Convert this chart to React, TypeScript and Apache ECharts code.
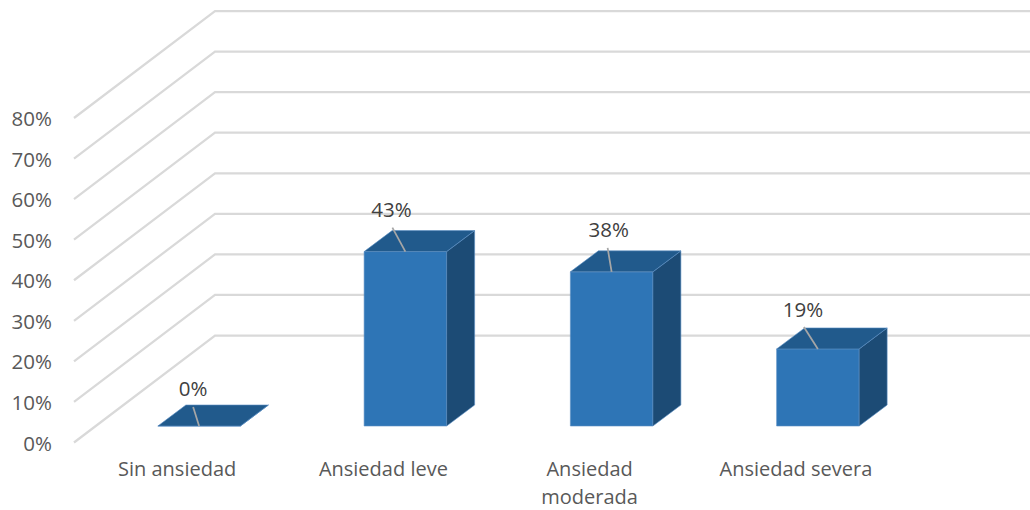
import React, { useEffect, useRef } from "react";
import * as echarts from "echarts";

const categories = ["Sin ansiedad", "Ansiedad leve", "Ansiedad\nmoderada", "Ansiedad severa"];
const values = [0, 43, 38, 19];
const gridTicks = [0, 10, 20, 30, 40, 50, 60, 70, 80];

// Horizontal lean of each callout leader, and its length, per bar.
const leaderLean = [-6, -13, -4, -14];
const leaderRise = [19, 24, 24, 22];
const labelRise = [37, 42, 42, 39];
const labelShift = [-6, -14, -3, -15];

const FONT = "'Open Sans', sans-serif";
// Oblique wall depth and the depth of the bars inside it.
const WALL_DX = 141;
const WALL_DY = 107;
const BAR_INSET_X = 22;
const BAR_INSET_Y = 16.5;
const BAR_DX = 28;
const BAR_DY = 21;
const BAR_WIDTH = 82.5;

const renderWall = (params: any, api: any) => {
  const cs = params.coordSys;
  const y = api.coord([0, api.value(1)])[1];
  return {
    type: "polyline",
    shape: {
      points: [
        [cs.x, y],
        [cs.x + WALL_DX, y - WALL_DY],
        [cs.x + cs.width + WALL_DX, y - WALL_DY],
      ],
    },
    style: { stroke: "#d9d9d9", lineWidth: 2.25, fill: "none" },
    silent: true,
  };
};

const renderBar = (params: any, api: any) => {
  const i = api.value(0);
  const base = api.coord([i, 0]);
  const top = api.coord([i, api.value(1)]);
  const x0 = base[0] + BAR_INSET_X - BAR_WIDTH / 2;
  const x1 = x0 + BAR_WIDTH;
  const yb = base[1] - BAR_INSET_Y;
  const yt = top[1] - BAR_INSET_Y;
  const edge = { stroke: "#5b8fc4", lineWidth: 0.6 };
  const xm = (x0 + x1) / 2;
  const poly = (points: number[][], fill: string) => ({
    type: "polygon",
    shape: { points },
    style: { fill, ...edge },
  });
  return {
    type: "group",
    children: [
      poly([[x0, yb], [x1, yb], [x1, yt], [x0, yt]], "#2e75b6"),
      poly([[x1, yb], [x1 + BAR_DX, yb - BAR_DY], [x1 + BAR_DX, yt - BAR_DY], [x1, yt]], "#1c4b75"),
      poly([[x0, yt], [x1, yt], [x1 + BAR_DX, yt - BAR_DY], [x0 + BAR_DX, yt - BAR_DY]], "#215a8c"),
      {
        type: "line",
        shape: { x1: xm, y1: yt, x2: xm + leaderLean[i], y2: yt - leaderRise[i] },
        style: { stroke: "#a6a6a6", lineWidth: 1.75 },
      },
      {
        type: "text",
        x: xm + labelShift[i],
        y: yt - labelRise[i] - 1,
        style: {
          text: `${api.value(1)}%`,
          font: `20.5px ${FONT}`,
          fill: "#404040",
          align: "center",
          verticalAlign: "middle",
        },
      },
    ],
  };
};

export default function App() {
  const ref = useRef<HTMLDivElement>(null);

  useEffect(() => {
    const chart = echarts.init(ref.current!, null, { renderer: "svg" });
    chart.setOption({
      animation: false,
      backgroundColor: "#ffffff",
      grid: { left: 74, top: 118, width: 825, height: 324.5, outerBoundsMode: "none" },
      xAxis: {
        type: "category",
        data: categories,
        axisLine: { show: false },
        axisTick: { show: false },
        axisLabel: { color: "#595959", fontFamily: FONT, fontSize: 20, margin: 12.5, lineHeight: 27.5 },
      },
      yAxis: {
        type: "value",
        min: 0,
        max: 80,
        interval: 10,
        splitLine: { show: false },
        axisLine: { show: false },
        axisTick: { show: false },
        axisLabel: {
          color: "#595959",
          fontFamily: FONT,
          fontSize: 20.5,
          margin: 22,
          formatter: "{value}%",
        },
      },
      series: [
        {
          type: "custom",
          name: "Paredes",
          z: 1,
          renderItem: renderWall,
          data: gridTicks.map((t) => [0, t]),
          silent: true,
        },
        {
          type: "custom",
          name: "Nivel de ansiedad",
          z: 2,
          renderItem: renderBar,
          data: values.map((v, i) => [i, v]),
          silent: true,
        },
      ],
    });
    return () => chart.dispose();
  }, []);

  return (
    <div
      ref={ref}
      style={{ position: "fixed", left: 0, top: 0, width: 1030, height: 510 }}
    />
  );
}
